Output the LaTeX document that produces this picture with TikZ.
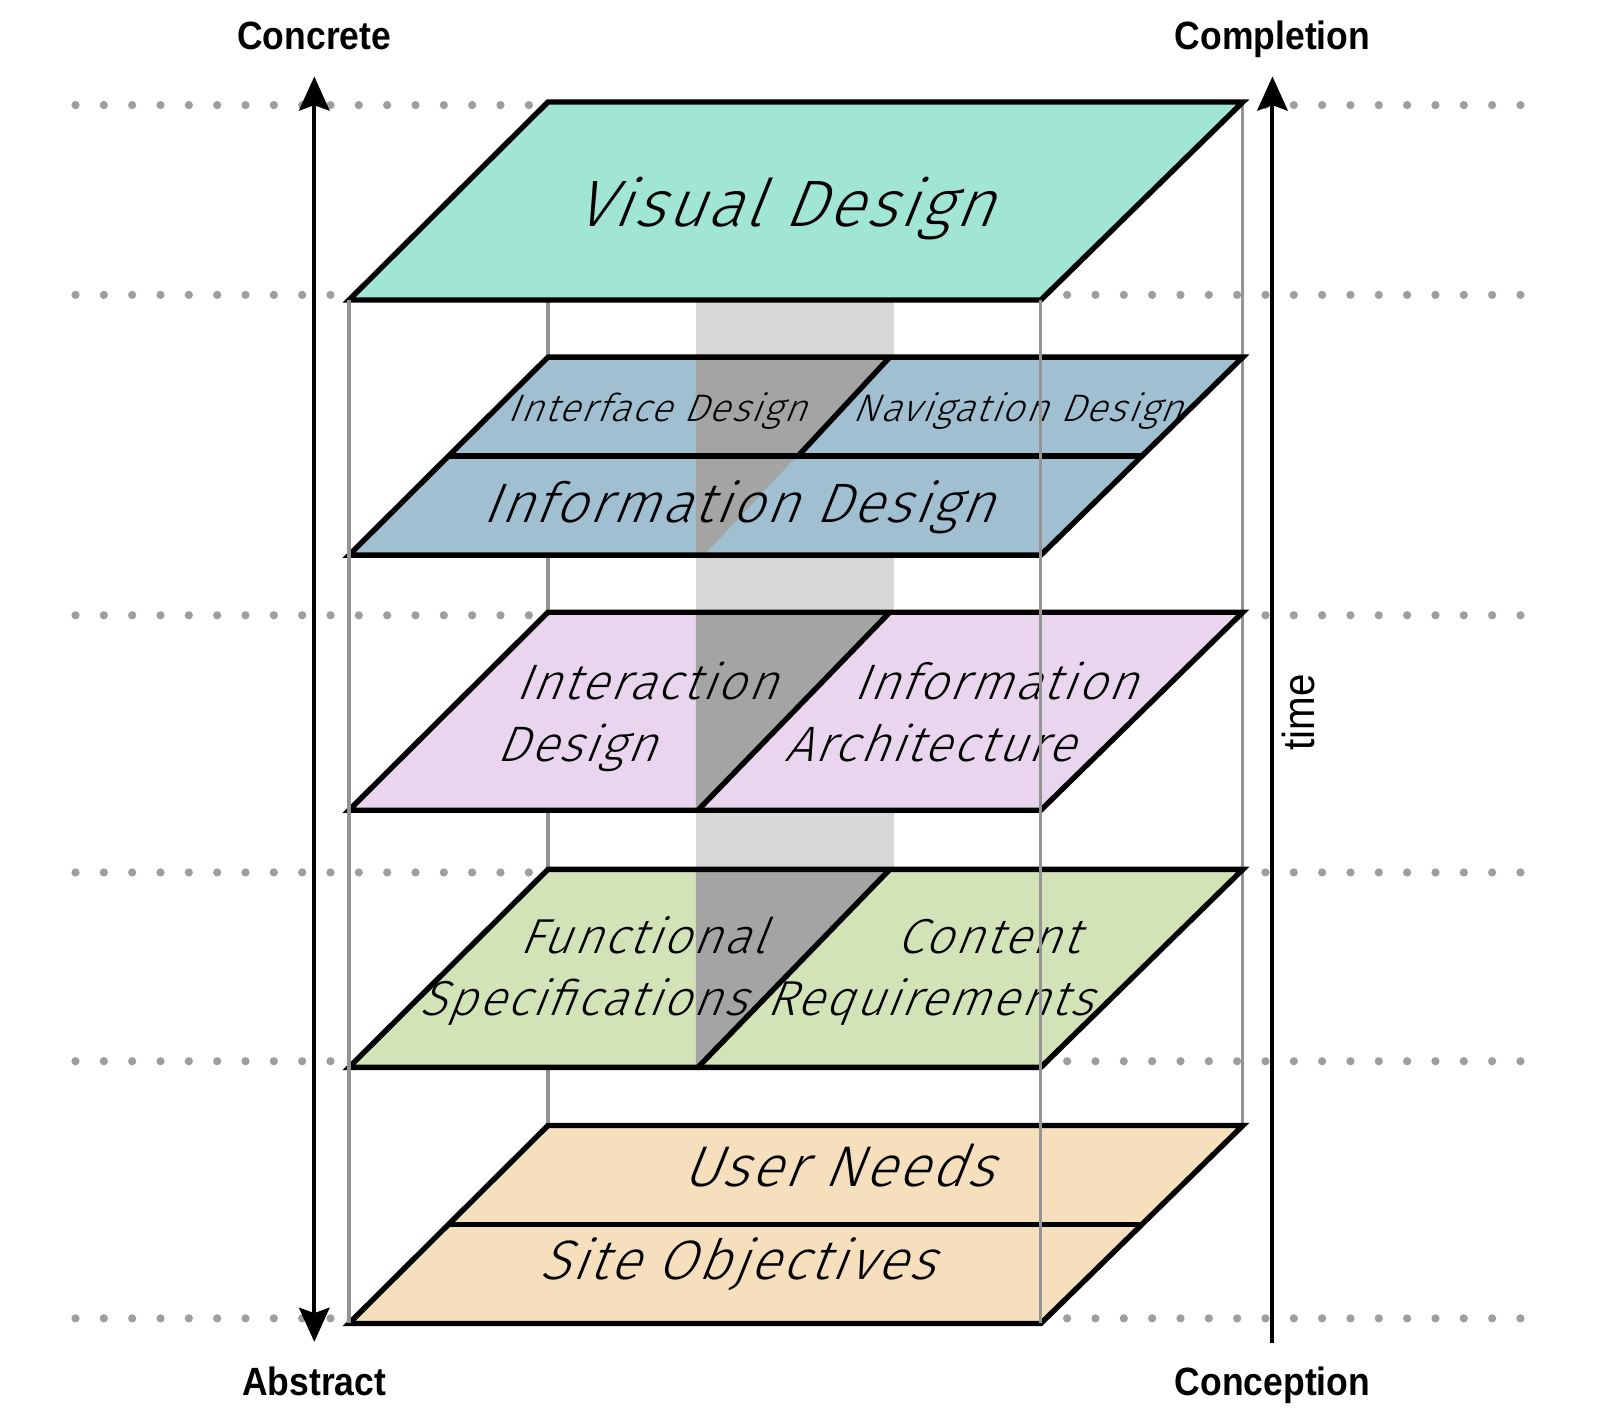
\documentclass[tikz,border=0pt]{standalone}
\usepackage{fontspec}
\setmainfont{Liberation Sans}
\newfontfamily\layerfont{Fira Sans}[UprightFont=* Light,FakeSlant=0.4,LetterSpace=4]
\newfontfamily\axisfont{Liberation Sans}[FakeStretch=0.9]
\usetikzlibrary{arrows.meta}
\definecolor{visualc}{HTML}{A1E6D5}
\definecolor{skeletonc}{HTML}{A0C0D2}
\definecolor{structurec}{HTML}{E9D5EE}
\definecolor{scopec}{HTML}{D3E3B8}
\definecolor{strategyc}{HTML}{F5DFBD}
\definecolor{bandc}{HTML}{D8D8D8}
\definecolor{bandd}{HTML}{A4A4A4}

\begin{document}
\begin{tikzpicture}[
		dotline/.style={draw=black!38,line width=2.3pt,line cap=round,dash pattern=on 0pt off 7.9pt},
		boxline/.style={draw=black!42,line width=0.9pt},
		plane/.style={draw=black,line width=1.5pt,line join=miter},
		layertext/.style={inner sep=0pt,align=left,anchor=base west,font=\layerfont},
		axislabel/.style={inner sep=0pt,anchor=base,font=\axisfont\bfseries\fontsize{11}{12}\selectfont},
		axis/.style={line width=1.1pt}
	]
		\useasboundingbox (0,0) rectangle (15.68,-13.955);
		\draw[dotline] (0.74,-1.03) -- (14.91,-1.03);
		\draw[dotline] (0.74,-2.89) -- (14.91,-2.89);
		\draw[dotline] (0.74,-6.03) -- (14.91,-6.03);
		\draw[dotline] (0.74,-8.55) -- (14.91,-8.55);
		\draw[dotline] (0.74,-10.40) -- (14.91,-10.40);
		\draw[dotline] (0.74,-12.92) -- (14.91,-12.92);
		\draw[boxline] (5.37,-1.00) -- (5.37,-11.03);
		\draw[boxline] (12.18,-1.00) -- (12.18,-11.03);
		\fill[bandc] (6.82,-2.94) rectangle (8.76,-8.52);
		\fill[visualc] (5.37,-1.00) -- (12.18,-1.00) -- (10.20,-2.94) -- (3.42,-2.94) -- cycle;
		\fill[skeletonc] (5.37,-3.50) -- (12.18,-3.50) -- (10.20,-5.44) -- (3.42,-5.44) -- cycle;
		\fill[structurec] (5.37,-6.00) -- (12.18,-6.00) -- (10.20,-7.94) -- (3.42,-7.94) -- cycle;
		\fill[scopec] (5.37,-8.52) -- (12.18,-8.52) -- (10.20,-10.46) -- (3.42,-10.46) -- cycle;
		\fill[strategyc] (5.37,-11.03) -- (12.18,-11.03) -- (10.20,-12.97) -- (3.42,-12.97) -- cycle;
		\fill[bandd] (6.82,-3.50) -- (8.72,-3.50) -- (6.90,-5.44) -- (6.82,-5.44) -- cycle;
		\fill[bandd] (6.82,-6.00) -- (8.72,-6.00) -- (6.84,-7.94) -- (6.82,-7.94) -- cycle;
		\fill[bandd] (6.82,-8.52) -- (8.72,-8.52) -- (6.84,-10.46) -- (6.82,-10.46) -- cycle;
		\draw[plane] (5.37,-1.00) -- (12.18,-1.00) -- (10.20,-2.94) -- (3.42,-2.94) -- cycle;
		\draw[plane] (5.37,-3.50) -- (12.18,-3.50) -- (10.20,-5.44) -- (3.42,-5.44) -- cycle;
		\draw[plane] (5.37,-6.00) -- (12.18,-6.00) -- (10.20,-7.94) -- (3.42,-7.94) -- cycle;
		\draw[plane] (5.37,-8.52) -- (12.18,-8.52) -- (10.20,-10.46) -- (3.42,-10.46) -- cycle;
		\draw[plane] (5.37,-11.03) -- (12.18,-11.03) -- (10.20,-12.97) -- (3.42,-12.97) -- cycle;
		\draw[plane] (4.40,-4.47) -- (11.19,-4.47);
		\draw[plane] (8.72,-3.50) -- (7.82,-4.47);
		\draw[plane] (8.72,-6.00) -- (6.84,-7.94);
		\draw[plane] (8.72,-8.52) -- (6.84,-10.46);
		\draw[plane] (4.40,-12.00) -- (11.19,-12.00);
		\node[layertext,font=\layerfont\fontsize{18.3}{20}\selectfont] (visual) at (5.62,-2.22) {Visual Design};
		\node[layertext,font=\layerfont\fontsize{10.7}{12}\selectfont] (interface) at (4.97,-4.13) {Interface Design};
		\node[layertext,font=\layerfont\fontsize{10.7}{12}\selectfont] (navigation) at (8.35,-4.13) {Navigation Design};
		\node[layertext,font=\layerfont\fontsize{15.5}{16}\selectfont] (information) at (4.72,-5.12) {Information Design};
		\node[layertext,font=\layerfont\fontsize{13.9}{17.1}\selectfont] (interaction) at (4.86,-7.46) {\hspace*{0.18cm}Interaction\\Design};
		\node[layertext,font=\layerfont\fontsize{13.9}{17.1}\selectfont] (architecture) at (7.68,-7.46) {\hspace*{0.68cm}Information\\Architecture};
		\node[layertext,font=\layerfont\fontsize{13.7}{17.3}\selectfont] (functional) at (4.10,-9.95) {\hspace*{0.98cm}Functional\\Specifications};
		\node[layertext,font=\layerfont\fontsize{13.7}{17.3}\selectfont] (content) at (7.50,-9.95) {\hspace*{1.28cm}Content\\Requirements};
		\node[layertext,font=\layerfont\fontsize{16}{16}\selectfont] (userneeds) at (6.68,-11.63) {User Needs};
		\node[layertext,font=\layerfont\fontsize{15.5}{16}\selectfont] (objectives) at (5.28,-12.54) {Site Objectives};
		\draw[boxline] (3.42,-2.94) -- (3.42,-12.97);
		\draw[boxline] (10.20,-2.94) -- (10.20,-12.97);
		\node[axislabel] (concrete) at (3.08,-0.49) {Concrete};
		\node[axislabel] (abstract) at (3.08,-13.68) {Abstract};
		\node[axislabel] (completion) at (12.47,-0.49) {Completion};
		\node[axislabel] (conception) at (12.47,-13.68) {Conception};
		\node[inner sep=0pt,rotate=90,font=\axisfont\fontsize{12.5}{13}\selectfont] (time) at (12.72,-6.98) {time};
		\coordinate (concrete end) at (3.08,-0.75);
		\coordinate (abstract end) at (3.08,-13.15);
		\coordinate (completion end) at (12.47,-0.75);
		\coordinate (conception end) at (12.47,-13.16);
		\draw[axis,{Stealth[length=9.5pt,width=8.5pt,inset=1.5pt]}-{Stealth[length=9.5pt,width=8.5pt,inset=1.5pt]}] (abstract end) -- (concrete end);
		\draw[axis,-{Stealth[length=9.5pt,width=8.5pt,inset=1.5pt]}] (conception end) -- (completion end);
\end{tikzpicture}
\end{document}
